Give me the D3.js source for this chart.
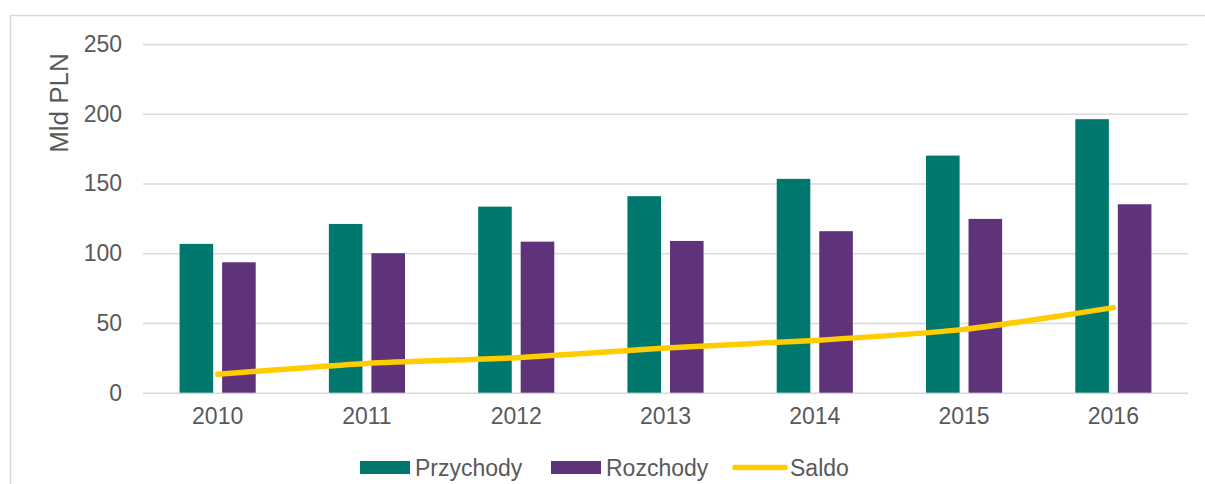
<!DOCTYPE html>
<html>
<head>
<meta charset="utf-8">
<script src="https://cdn.jsdelivr.net/npm/d3@7"></script>
<style>
  html, body { margin: 0; padding: 0; background: #fff; }
  svg { display: block; font-family: "Liberation Sans", Arial, sans-serif; }
  .tick text { fill: #595959; }
</style>
</head>
<body>
<svg id="chart" width="1205" height="484"></svg>
<script>
// data (Mld PLN)
var years = ["2010", "2011", "2012", "2013", "2014", "2015", "2016"];
var przychody = [106.7, 121.0, 133.4, 140.9, 153.3, 170.0, 196.1];
var rozchody = [93.5, 100.0, 108.3, 108.8, 115.8, 124.6, 135.1];
var saldo = [13.2, 21.0, 25.1, 32.1, 37.5, 45.4, 61.0];
var yTicks = [0, 50, 100, 150, 200, 250];
var seriesNames = ["Przychody", "Rozchody", "Saldo"];
var colors = { Przychody: "#00786E", Rozchody: "#5E3379", Saldo: "#FFCC00" };

var svg = d3.select("#chart");

// outer frame of the chart area
svg.append("rect")
    .attr("x", 10.5).attr("y", 15.5)
    .attr("width", 1210).attr("height", 480)
    .attr("fill", "none")
    .attr("stroke", "#d9d9d9")
    .attr("stroke-width", 1.5);

var plotLeft = 143, plotRight = 1188, plotTop = 44, plotBottom = 392.7;

var x = d3.scaleBand().domain(years).range([plotLeft, plotRight]).padding(0);
var x1 = d3.scaleBand().domain(["Przychody", "Rozchody"])
    .range([0, x.bandwidth()])
    .paddingInner(0.21)
    .paddingOuter(0.86);
var y = d3.scaleLinear().domain([0, 250]).range([plotBottom, plotTop]);

// gridlines + y labels
var yAxis = svg.append("g")
    .attr("transform", "translate(" + plotLeft + ",0)")
    .call(d3.axisLeft(y).tickValues(yTicks).tickSize(-(plotRight - plotLeft)).tickPadding(21));
yAxis.select(".domain").remove();
yAxis.selectAll(".tick line").attr("stroke", "#d9d9d9").attr("stroke-width", 1.6);
yAxis.selectAll(".tick text").attr("font-size", "23px").attr("font-family", null);

// axis title
svg.append("text")
    .attr("transform", "translate(68,103) rotate(-90)")
    .attr("text-anchor", "middle")
    .attr("font-size", "26px")
    .attr("fill", "#595959")
    .text("Mld PLN");

// bars
var rows = years.map(function (yr, i) {
    return { year: yr, Przychody: przychody[i], Rozchody: rozchody[i] };
});
var groups = svg.append("g").selectAll("g")
    .data(rows)
    .enter().append("g")
    .attr("transform", function (d) { return "translate(" + x(d.year) + ",0)"; });
groups.selectAll("rect")
    .data(function (d) { return x1.domain().map(function (k) { return { key: k, value: d[k] }; }); })
    .enter().append("rect")
    .attr("x", function (d) { return x1(d.key); })
    .attr("y", function (d) { return y(d.value); })
    .attr("width", x1.bandwidth())
    .attr("height", function (d) { return y(0) - y(d.value); })
    .attr("fill", function (d) { return colors[d.key]; });

// x labels
var xAxis = svg.append("g")
    .attr("transform", "translate(0," + plotBottom + ")")
    .call(d3.axisBottom(x).tickSize(0).tickPadding(15));
xAxis.select(".domain").remove();
xAxis.selectAll(".tick text").attr("font-size", "23px").attr("font-family", null);

// saldo line (smoothed)
var line = d3.line()
    .x(function (d, i) { return x(years[i]) + x.bandwidth() / 2; })
    .y(function (d) { return y(d); })
    .curve(d3.curveCardinal.tension(0.3));
svg.append("path")
    .datum(saldo)
    .attr("d", line)
    .attr("fill", "none")
    .attr("stroke", colors.Saldo)
    .attr("stroke-width", 5.5)
    .attr("stroke-linecap", "round");

// legend
var legend = svg.append("g").attr("transform", "translate(360,0)");
var legendX = [0, 191, 373];
seriesNames.forEach(function (name, i) {
    var g = legend.append("g").attr("transform", "translate(" + legendX[i] + ",0)");
    if (name === "Saldo") {
        g.append("line")
            .attr("x1", 2).attr("x2", 52)
            .attr("y1", 467.5).attr("y2", 467.5)
            .attr("stroke", colors[name])
            .attr("stroke-width", 5.5)
            .attr("stroke-linecap", "round");
    } else {
        g.append("rect")
            .attr("x", 0).attr("y", 461)
            .attr("width", 50).attr("height", 13)
            .attr("fill", colors[name]);
    }
    g.append("text")
        .attr("x", name === "Saldo" ? 57 : 55)
        .attr("y", 476)
        .attr("font-size", "23px")
        .attr("fill", "#595959")
        .text(name);
});
</script>
</body>
</html>
